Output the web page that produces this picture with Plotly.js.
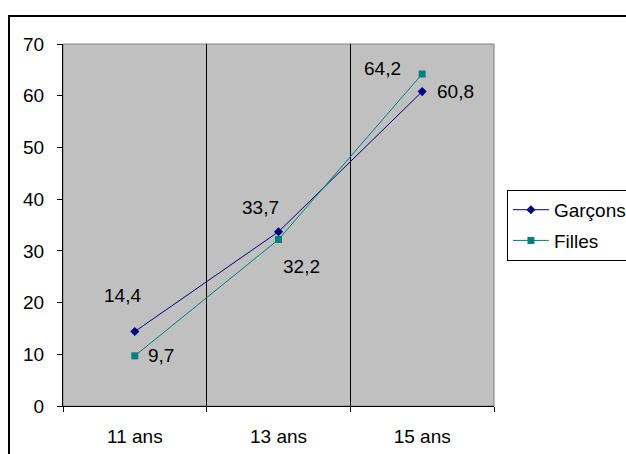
<!DOCTYPE html>
<html>
<head>
<meta charset="utf-8">
<script src="https://cdn.plot.ly/plotly-3.0.1.min.js"></script>
<style>
html,body{margin:0;padding:0;background:#fff;overflow:hidden;}
#chart{position:absolute;left:0;top:0;width:626px;height:454px;}
#frame{position:absolute;left:8px;top:15px;width:700px;height:500px;border:2px solid #000;pointer-events:none;}
</style>
</head>
<body>
<div id="chart"></div>
<div id="frame"></div>
<script>
const categories = ["11 ans", "13 ans", "15 ans"];
const garcons = [14.4, 33.7, 60.8];
const filles = [9.7, 32.2, 64.2];
const garconsLabels = ["14,4", "33,7", "60,8"];
const fillesLabels = ["9,7", "32,2", "64,2"];

const garconsOffsets = [[-12, -36], [-18, -24], [33, 0]];
const fillesOffsets = [[26, 0], [23, 27], [-40, -5]];

const font = {family: "'Liberation Sans', Arial, sans-serif", size: 19, color: "#000"};

const traces = [
  {x: categories, y: garcons, name: "Garçons", type: "scatter", mode: "lines+markers",
   line: {color: "#000080", width: 1}, marker: {symbol: "diamond", size: 7, color: "#000080"},
   legendgroup: "g"},
  {x: categories, y: filles, name: "Filles", type: "scatter", mode: "lines+markers",
   line: {color: "#008080", width: 1}, marker: {symbol: "square", size: 7, color: "#008080"},
   legendgroup: "f"}
];

const annotations = [];
categories.forEach((c, i) => {
  annotations.push({x: c, y: garcons[i], text: garconsLabels[i], showarrow: false,
    xshift: garconsOffsets[i][0], yshift: -garconsOffsets[i][1], font: font});
  annotations.push({x: c, y: filles[i], text: fillesLabels[i], showarrow: false,
    xshift: fillesOffsets[i][0], yshift: -fillesOffsets[i][1], font: font});
});

const layout = {
  width: 626, height: 454,
  margin: {l: 63, r: 132, t: 44, b: 48, autoexpand: false},
  paper_bgcolor: "#fff",
  plot_bgcolor: "#C0C0C0",
  font: font,
  showlegend: true,
  legend: {x: 1.03, xanchor: "left", y: 0.499, yanchor: "middle",
    bordercolor: "#000", borderwidth: 1, bgcolor: "#fff", font: font,
    traceorder: "grouped", tracegroupgap: 3, itemwidth: 36},
  xaxis: {type: "category", tickson: "boundaries", showgrid: true, gridcolor: "#000", gridwidth: 1,
    ticks: "outside", ticklen: 5, tickcolor: "#000", showline: true, linecolor: "#000", linewidth: 1,
    range: [-0.5, 2.5], zeroline: false, ticklabelstandoff: 13, fixedrange: true, automargin: false},
  yaxis: {range: [0, 70], dtick: 10, showgrid: false, zeroline: false,
    ticks: "outside", ticklen: 5, tickcolor: "#000", showline: true, linecolor: "#000", linewidth: 1,
    ticklabelstandoff: 9, fixedrange: true, automargin: false},
  shapes: [{type: "rect", xref: "paper", yref: "paper", x0: 0, x1: 1, y0: 0, y1: 1,
    line: {color: "#808080", width: 1}, layer: "below"}],
  annotations: annotations
};

Plotly.newPlot("chart", traces, layout, {displayModeBar: false, staticPlot: true});
</script>
</body>
</html>
